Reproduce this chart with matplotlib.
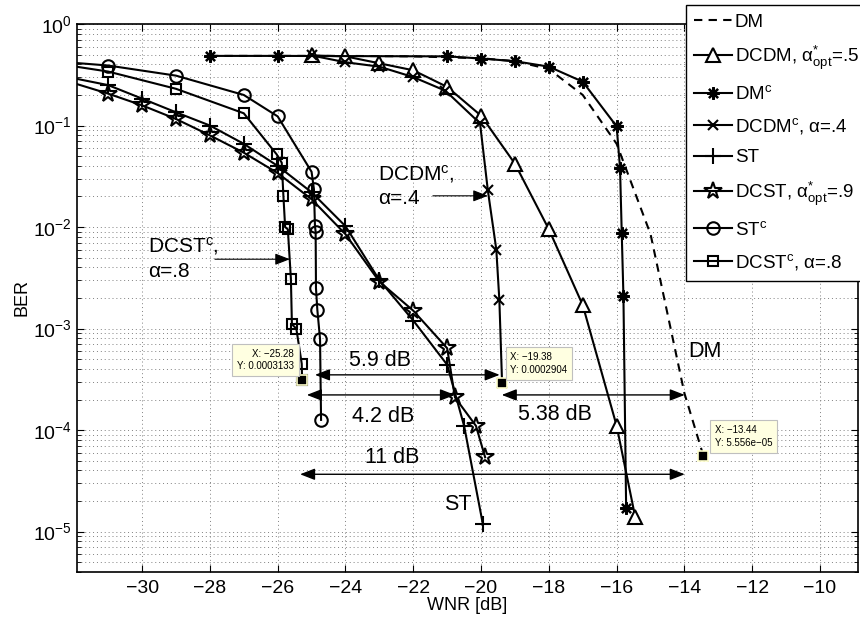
import matplotlib.pyplot as plt
from matplotlib.ticker import LogLocator, NullFormatter, MultipleLocator

plt.rcParams['font.family'] = ['Liberation Sans', 'DejaVu Sans']
plt.rcParams['mathtext.fontset'] = 'custom'
plt.rcParams['mathtext.rm'] = 'Liberation Sans'
plt.rcParams['mathtext.it'] = 'Liberation Sans:italic'
plt.rcParams['mathtext.bf'] = 'Liberation Sans:bold'

# BER against WNR [dB] for each scheme
dm_x = [-28, -26, -24, -22, -21, -20, -19, -18, -17, -16, -15, -14, -13.44]
dm_y = [0.485, 0.485, 0.485, 0.48, 0.47, 0.46, 0.43, 0.36, 0.2, 0.066, 0.0085, 2.3e-4, 5.556e-5]

dcdm_x = [-25, -24, -23, -22, -21, -20, -19, -18, -17, -16, -15.45]
dcdm_y = [0.49, 0.48, 0.41, 0.35, 0.24, 0.125, 0.042, 0.0095, 0.0017, 1.1e-4, 1.38e-5]

dmc_x = [-28, -26, -21, -20, -19, -18, -17, -16, -15.9, -15.85, -15.8, -15.72]
dmc_y = [0.485, 0.485, 0.48, 0.457, 0.43, 0.38, 0.27, 0.098, 0.038, 0.0088, 0.0021, 1.7e-5]

dcdmc_x = [-25, -24, -23, -22, -21.05, -20.03, -19.8, -19.55, -19.46, -19.38]
dcdmc_y = [0.49, 0.42, 0.38, 0.30, 0.22, 0.105, 0.023, 0.006, 0.0019, 0.0002904]

st_x = [-33, -31, -30, -29, -28, -27, -26, -25, -24, -23, -22, -21, -20.5, -19.95]
st_y = [0.34, 0.25, 0.184, 0.135, 0.1, 0.066, 0.04, 0.022, 0.0102, 0.003, 0.0012, 4.4e-4, 1.1e-4, 1.2e-5]

dcst_x = [-33, -31, -30, -29, -28, -27, -26, -25, -24, -23, -22, -21, -20.77, -20.15, -19.88]
dcst_y = [0.33, 0.206, 0.158, 0.116, 0.08, 0.054, 0.034, 0.0188, 0.0085, 0.0029, 0.0015, 6.4e-4, 2.1e-4, 1.1e-4, 5.4e-5]

stc_x = [-33, -31, -29, -27, -26, -25, -24.93, -24.9, -24.88, -24.87, -24.83, -24.75, -24.72]
stc_y = [0.44, 0.39, 0.31, 0.2, 0.123, 0.035, 0.0236, 0.0102, 0.009, 0.0025, 0.00153, 7.9e-4, 1.26e-4]

dcstc_x = [-33, -31, -29, -27, -26.03, -25.88, -25.83, -25.78, -25.7, -25.61, -25.58, -25.45, -25.29, -25.28]
dcstc_y = [0.43, 0.34, 0.23, 0.132, 0.052, 0.043, 0.020, 0.0100, 0.0095, 0.0031, 1.1e-3, 1.0e-3, 4.5e-4, 0.0003133]

fig = plt.figure(figsize=(8.6, 6.19), dpi=100)
ax = fig.add_axes([77 / 860, 47 / 619, 781 / 860, 548 / 619])

lw = 1.5
ax.plot(dm_x, dm_y, 'k--', lw=lw, dashes=(4, 3), label='DM')
ax.plot(dcdm_x, dcdm_y, 'k-', lw=lw, marker='^', ms=10, mfc='white', mew=1.5,
        label='DCDM, α$^{*}_{\\mathrm{opt}}$=.5')
ax.plot(dmc_x, dmc_y, 'k-', lw=lw, marker=(8, 2, 0), ms=9, mew=1.6,
        label='DM$^{\\mathrm{c}}$')
ax.plot(dcdmc_x, dcdmc_y, 'k-', lw=lw, marker='x', ms=7, mew=1.5,
        label='DCDM$^{\\mathrm{c}}$, α=.4')
ax.plot(st_x, st_y, 'k-', lw=lw, marker='+', ms=11, mew=1.5, label='ST')
ax.plot(dcst_x, dcst_y, 'k-', lw=lw, marker='*', ms=13, mfc='none', mew=1.5,
        label='DCST, α$^{*}_{\\mathrm{opt}}$=.9')
ax.plot(stc_x, stc_y, 'k-', lw=lw, marker='o', ms=9, mfc='none', mew=1.5,
        label='ST$^{\\mathrm{c}}$')
ax.plot(dcstc_x, dcstc_y, 'k-', lw=lw, marker='s', ms=7.5, mfc='none', mew=1.5,
        label='DCST$^{\\mathrm{c}}$, α=.8')

ax.set_yscale('log')
ax.set_xlim(-31.92, -8.88)
ax.set_ylim(4e-6, 1)
ax.xaxis.set_major_locator(MultipleLocator(2))
ax.yaxis.set_major_locator(LogLocator(base=10, numticks=10))
ax.yaxis.set_minor_locator(LogLocator(base=10, subs=range(2, 10), numticks=20))
ax.yaxis.set_minor_formatter(NullFormatter())
ax.tick_params(which='both', direction='in', top=True, right=True, labelsize=14)
ax.tick_params(which='major', length=5, width=0.8)
ax.tick_params(which='minor', length=3, width=0.6)
ax.tick_params(axis='x', pad=6)
ax.grid(True, which='major', color='0.5', ls=(0, (1, 3)), lw=0.7)
ax.grid(True, which='minor', axis='y', color='0.5', ls=(0, (1, 3)), lw=0.7)
for s in ax.spines.values():
    s.set_linewidth(1.2)
ax.set_xlabel('WNR [dB]', fontsize=13, labelpad=0)
ax.set_ylabel('BER', fontsize=13, labelpad=2)

# gap arrows between curves
def gap(x1, x2, y):
    ax.annotate('', xy=(x2, y), xytext=(x1, y),
                arrowprops=dict(arrowstyle='<|-|>,head_length=0.9,head_width=0.35',
                                color='k', lw=1.0, mutation_scale=10,
                                shrinkA=0, shrinkB=0))

gap(-24.90, -19.45, 3.5e-4)
gap(-25.14, -20.77, 2.22e-4)
gap(-19.39, -13.99, 2.22e-4)
gap(-25.34, -13.99, 3.67e-5)
fs = 15.5
ax.text(-22.98, 4.9e-4, '5.9 dB', fontsize=fs, ha='center', va='center')
ax.text(-22.9, 1.35e-4, '4.2 dB', fontsize=fs, ha='center', va='center')
ax.text(-17.82, 1.41e-4, '5.38 dB', fontsize=fs, ha='center', va='center')
ax.text(-22.63, 5.4e-5, '11 dB', fontsize=fs, ha='center', va='center')
ax.text(-20.68, 1.85e-5, 'ST', fontsize=fs, ha='center', va='center')
ax.text(-13.9, 5.9e-4, 'DM', fontsize=fs, ha='left', va='center')

# curve labels with pointers
ax.text(-29.82, 6.5e-3, 'DCST$^{\\mathrm{c}}$,', fontsize=15, ha='left', va='center')
ax.text(-29.82, 3.67e-3, 'α=.8', fontsize=15, ha='left', va='center')
ax.annotate('', xy=(-25.64, 4.82e-3), xytext=(-27.85, 4.82e-3),
            arrowprops=dict(arrowstyle='-|>,head_length=0.9,head_width=0.35',
                            color='k', lw=0.8, mutation_scale=10, shrinkA=0, shrinkB=0))
ax.text(-23.04, 0.0335, 'DCDM$^{\\mathrm{c}}$,', fontsize=15, ha='left', va='center')
ax.text(-23.04, 0.0189, 'α=.4', fontsize=15, ha='left', va='center')
ax.annotate('', xy=(-19.80, 0.0203), xytext=(-21.42, 0.0203),
            arrowprops=dict(arrowstyle='-|>,head_length=0.9,head_width=0.35',
                            color='k', lw=0.8, mutation_scale=10, shrinkA=0, shrinkB=0))

# data tips on the curve ends
def tip(x, y, dx, dy, ha):
    ax.plot(x, y, 's', color='k', ms=6.5, mec='#ffffcc', mew=1.2, zorder=6)
    s = 'X: %.4g\nY: %.4g' % (x, y)
    s = s.replace('-', '\u2212')
    ax.annotate(s, xy=(x, y), xytext=(dx, dy), textcoords='offset points',
                fontsize=7, ha=ha, va='bottom', zorder=7, linespacing=1.3,
                bbox=dict(boxstyle='square,pad=0.5', fc='#ffffe1', ec='0.75', lw=0.8))

tip(dcstc_x[-1], dcstc_y[-1], -6, 6, 'right')
tip(dcdmc_x[-1], dcdmc_y[-1], 6, 6, 'left')
tip(dm_x[-1], dm_y[-1], 8, 6, 'left')

leg = ax.legend(loc='upper left', bbox_to_anchor=(686 / 860, 1 - 5 / 619),
                bbox_transform=fig.transFigure, fontsize=13.5, frameon=True,
                fancybox=False, edgecolor='k', framealpha=1, borderpad=0.45,
                labelspacing=0.7, handlelength=2.0, handletextpad=0.15,
                borderaxespad=0)
leg.get_frame().set_linewidth(1.0)

fig.savefig('out.png', dpi=100)
